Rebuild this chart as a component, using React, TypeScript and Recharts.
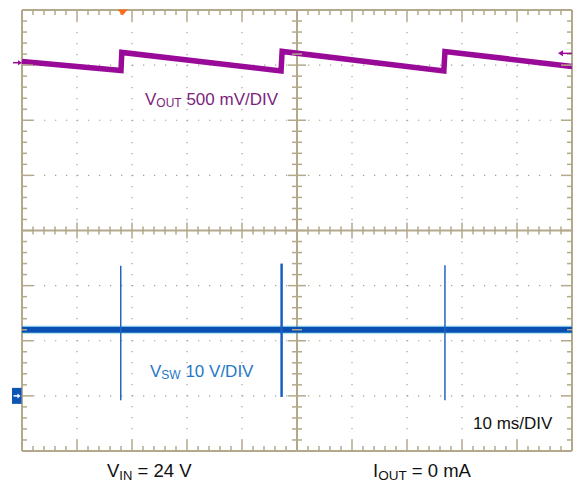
import React from "react";
import { CartesianGrid, ComposedChart, Line, ReferenceLine, Scatter, XAxis, YAxis } from "recharts";

// time base: 10 ms/div, 10 divisions
const timeTicks = [0, 10, 20, 30, 40, 50, 60, 70, 80, 90, 100];
// vertical screen: 8 divisions
const divTicks = [-4, -3, -2, -1, 0, 1, 2, 3, 4];

// VOUT, 500 mV/div, volts relative to screen centre
const voutTime = [0, 18.0, 18.15, 47.1, 47.3, 76.7, 76.9, 100];
const voutLevel = [1.533, 1.451, 1.615, 1.447, 1.624, 1.447, 1.624, 1.488];

// VSW, 10 V/div, volts
const swTime = [0, 100];
const swLevel = [12, 12];
const spikeTime = [17.95, 47.2, 76.9];
const spikeHigh = [23.6, 24.0, 23.7];
const spikeLow = [-0.8, -0.2, -0.8];

// markers
const triggerTime = 18.3;
const voutRef = 1.522;
const triggerLevel = 1.607;

const GRID = "#b3a98b";
const PURPLE = "#990a99";
const BLUE = "#0a50b2";
const CYAN = "#38c6e2";

const voutData = voutTime.map((t, i) => ({ t, v: voutLevel[i] }));
const swData = swTime.map((t, i) => ({ t, v: swLevel[i] }));

// graticule sub-divisions (5 per division)
const minorT = Array.from({ length: 51 }, (_, i) => i * 2);
const minorV = Array.from({ length: 41 }, (_, i) => Math.round((-4 + i * 0.2) * 10) / 10);
const isMajorT = (t: number) => t % 10 === 0;
const isMajorV = (v: number) => Math.abs(v - Math.round(v)) < 1e-6;

const leftTicks = minorV.map((v) => ({ t: 0, v, major: isMajorV(v) }));
const rightTicks = minorV.map((v) => ({ t: 100, v, major: isMajorV(v) }));
const midVTicks = minorV.map((v) => ({ t: 50, v, major: isMajorV(v) }));
const topTicks = minorT.map((t) => ({ t, v: 4, major: isMajorT(t) }));
const bottomTicks = minorT.map((t) => ({ t, v: -4, major: isMajorT(t) }));
const midHTicks = minorT.map((t) => ({ t, v: 0, major: isMajorT(t) }));

const major = (p: any) => (p.payload ? p.payload.major : p.major);

const tickShape = (kind: string) => (p: any) => {
  const { cx, cy } = p;
  const m = major(p);
  let x1 = cx, x2 = cx, y1 = cy, y2 = cy;
  if (kind === "left") x2 = cx + (m ? 11 : 5);
  if (kind === "right") x2 = cx - (m ? 11 : 5);
  if (kind === "top") y2 = cy + (m ? 11 : 5);
  if (kind === "bottom") y2 = cy - (m ? 11 : 5);
  if (kind === "midH") { y1 = cy - (m ? 8 : 4); y2 = cy + (m ? 8 : 4); }
  if (kind === "midV") { x1 = cx - (m ? 9 : 5); x2 = cx + (m ? 9 : 5); }
  return <line x1={x1} y1={y1} x2={x2} y2={y2} stroke={GRID} strokeWidth={1.5} />;
};

const triggerShape = (p: any) => (
  <polygon points={`${p.cx - 5},${p.cy - 0.5} ${p.cx + 5},${p.cy - 0.5} ${p.cx},${p.cy + 5.5}`} fill="#ff6a13" />
);

const voutRefShape = (p: any) => (
  <g>
    <line x1={p.cx - 9} y1={p.cy} x2={p.cx - 3} y2={p.cy} stroke={PURPLE} strokeWidth={1.5} />
    <polygon points={`${p.cx},${p.cy} ${p.cx - 4},${p.cy - 2.5} ${p.cx - 4},${p.cy + 2.5}`} fill={PURPLE} />
  </g>
);

const trigLevelShape = (p: any) => (
  <g>
    <line x1={p.cx - 11} y1={p.cy} x2={p.cx} y2={p.cy} stroke={PURPLE} strokeWidth={1.5} />
    <polygon points={`${p.cx - 14},${p.cy} ${p.cx - 9},${p.cy - 3} ${p.cx - 9},${p.cy + 3}`} fill={PURPLE} />
  </g>
);

const groundShape = (p: any) => (
  <g>
    <rect x={p.cx - 10} y={p.cy - 8} width={9.5} height={16} fill="#0c55b5" />
    <line x1={p.cx - 8.5} y1={p.cy} x2={p.cx - 4} y2={p.cy} stroke="#fff" strokeWidth={1.5} />
    <polygon points={`${p.cx - 1.5},${p.cy} ${p.cx - 4.5},${p.cy - 2.5} ${p.cx - 4.5},${p.cy + 2.5}`} fill="#fff" />
  </g>
);

export default function App() {
  return (
    <div style={{ position: "absolute", left: 0, top: 0, width: 573, height: 489, background: "#fff" }}>
      <ComposedChart width={573} height={489} margin={{ top: 10, right: 1, left: 22, bottom: 38 }}>
        <XAxis type="number" dataKey="t" domain={[0, 100]} ticks={timeTicks} hide />
        <YAxis yAxisId="div" type="number" domain={[-4, 4]} ticks={divTicks} hide />
        <YAxis yAxisId="vout" type="number" domain={[-2, 2]} hide />
        <YAxis yAxisId="vsw" type="number" domain={[-10, 70]} hide />
        <CartesianGrid yAxisId="div" stroke="#a9a18f" strokeWidth={1.2} strokeDasharray="1.3 9.7" />
        {[0, 50, 100].map((t) => (
          <ReferenceLine key={"x" + t} yAxisId="div" x={t} stroke={GRID} strokeWidth={2} />
        ))}
        {[-4, 0, 4].map((v) => (
          <ReferenceLine key={"y" + v} yAxisId="div" y={v} stroke={GRID} strokeWidth={2} />
        ))}
        <Scatter yAxisId="div" data={leftTicks} dataKey="v" shape={tickShape("left")} isAnimationActive={false} />
        <Scatter yAxisId="div" data={rightTicks} dataKey="v" shape={tickShape("right")} isAnimationActive={false} />
        <Scatter yAxisId="div" data={topTicks} dataKey="v" shape={tickShape("top")} isAnimationActive={false} />
        <Scatter yAxisId="div" data={bottomTicks} dataKey="v" shape={tickShape("bottom")} isAnimationActive={false} />
        <Scatter yAxisId="div" data={midHTicks} dataKey="v" shape={tickShape("midH")} isAnimationActive={false} />
        <Scatter yAxisId="div" data={midVTicks} dataKey="v" shape={tickShape("midV")} isAnimationActive={false} />

        <Line yAxisId="vsw" data={swData} dataKey="v" type="linear" stroke={CYAN} strokeOpacity={0.4} strokeWidth={8.5} dot={false} activeDot={false} isAnimationActive={false} />
        <Line yAxisId="vsw" data={swData} dataKey="v" type="linear" stroke={BLUE} strokeWidth={6} dot={false} activeDot={false} isAnimationActive={false} />
        {spikeTime.map((t, i) => (
          <Line
            key={"spk" + i}
            yAxisId="vsw"
            data={[{ t, v: spikeHigh[i] }, { t, v: spikeLow[i] }]}
            dataKey="v"
            type="linear"
            stroke={i === 1 ? "#1a5fc4" : "#2563c2"}
            strokeWidth={i === 1 ? 2.5 : 1.5}
            dot={false}
            activeDot={false}
            isAnimationActive={false}
          />
        ))}
        <Line yAxisId="vout" data={voutData} dataKey="v" type="linear" stroke={PURPLE} strokeWidth={5.5} dot={false} activeDot={false} isAnimationActive={false} />

        <Scatter yAxisId="div" data={[{ t: triggerTime, v: 4 }]} dataKey="v" shape={triggerShape} isAnimationActive={false} />
        <Scatter yAxisId="vout" data={[{ t: 0, v: voutRef }]} dataKey="v" shape={voutRefShape} isAnimationActive={false} />
        <Scatter yAxisId="vout" data={[{ t: 100, v: triggerLevel }]} dataKey="v" shape={trigLevelShape} isAnimationActive={false} />
        <Scatter yAxisId="vsw" data={[{ t: 0, v: 0 }]} dataKey="v" shape={groundShape} isAnimationActive={false} />
      </ComposedChart>
      <svg
        width={573}
        height={489}
        style={{ position: "absolute", left: 0, top: 0, pointerEvents: "none", whiteSpace: "pre" }}
        fontFamily="'Liberation Sans', Arial, sans-serif"
      >
        <text x={145} y={104.5} fill="#7e1f7e" fontSize={17}>
          V<tspan fontSize={12} dy={2}>OUT</tspan>
          <tspan dy={-2}> 500 mV/DIV</tspan>
        </text>
        <text x={150} y={376.5} fill="#1f78c8" fontSize={17}>
          V<tspan fontSize={12} dy={2}>SW</tspan>
          <tspan dy={-2}> 10 V/DIV</tspan>
        </text>
        <text x={473} y={429} fill="#111" fontSize={17}>10 ms/DIV</text>
        <text x={107} y={476.5} fill="#111" fontSize={18.5}>
          V<tspan fontSize={13} dy={3.3}>IN</tspan>
          <tspan dy={-3.3}> = 24 V</tspan>
        </text>
        <text x={373} y={476.5} fill="#111" fontSize={18.5}>
          I<tspan fontSize={13.5} dy={3.3}>OUT</tspan>
          <tspan dy={-3.3}> = 0 mA</tspan>
        </text>
      </svg>
    </div>
  );
}
